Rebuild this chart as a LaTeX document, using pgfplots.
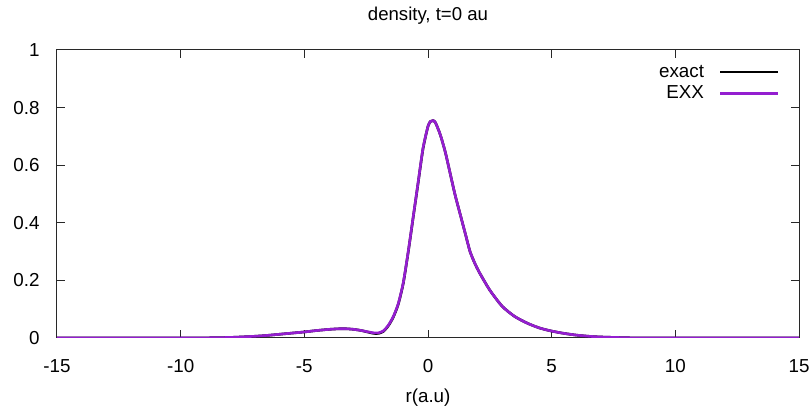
\documentclass[border=0pt]{standalone}
\usepackage{pgfplots}
\pgfplotsset{compat=1.18}
\usepackage{fontspec}
\setmainfont{Liberation Sans}
\definecolor{exxc}{RGB}{148,30,208}
\definecolor{axc}{RGB}{40,40,40}
\begin{document}
\begin{tikzpicture}
\useasboundingbox (-28.5pt,-34pt) rectangle (377.5pt,169pt);
\begin{axis}[
  at={(0,0)}, anchor=south west,
  scale only axis, width=371pt, height=144pt,
  xmin=-15, xmax=15, ymin=0, ymax=1,
  xtick={-15,-10,-5,0,5,10,15},
  ytick={0,0.2,0.4,0.6,0.8,1},
  tick align=inside, tick pos=both,
  xticklabel pos=left, yticklabel pos=left,
  major tick length=4pt,
  axis line style={axc, line width=0.5pt},
  every tick/.style={axc, line width=0.5pt},
  font=\fontsize{9.4}{11}\selectfont,
  /pgf/number format/assume math mode=true,
  /pgf/number format/fixed,
  xticklabel style={anchor=center, inner sep=0pt, yshift=-14.2pt},
  yticklabel style={anchor=east, inner sep=0pt, xshift=-8.5pt},
  title={density, t=0 au},
  title style={at={(0.5,1)}, anchor=center, yshift=11pt, font=\fontsize{9.3}{11}\selectfont},
  xlabel={r(a.u)},
  xlabel style={at={(0.5,0)}, anchor=center, yshift=-30pt},
  legend plot pos=right,
  legend cell align=right,
  legend image code/.code={\draw[#1] (0pt,0pt) -- (29pt,0pt);},
  legend style={at={(1,1)}, anchor=north east, xshift=-9.5pt, yshift=-6.4pt,
    draw=none, fill=none, inner sep=0pt, column sep=7.5pt, row sep=1.6pt,
    nodes={inner sep=0pt, text height=7pt, text depth=2pt},
    font=\fontsize{9.4}{11}\selectfont},
]
\addplot[black, line width=1.3pt, smooth, tension=0.4] coordinates {
(-15,0) (-10,0) (-9,0.0005) (-8,0.002) (-7,0.006) (-6.5,0.009) (-6,0.013)
(-5.5,0.017) (-5,0.021) (-4.5,0.026) (-4,0.030) (-3.6,0.032) (-3.3,0.032)
(-3,0.030) (-2.7,0.026) (-2.4,0.020) (-2.2,0.016) (-2.0,0.016) (-1.8,0.023)
(-1.6,0.043) (-1.4,0.073) (-1.2,0.118) (-1.0,0.190) (-0.8,0.298) (-0.6,0.418)
(-0.4,0.538) (-0.2,0.658) (0.0,0.735) (0.1,0.752) (0.2,0.755) (0.3,0.748)
(0.5,0.705) (0.7,0.645) (0.9,0.570) (1.1,0.495) (1.3,0.430) (1.5,0.365)
(1.7,0.300) (1.9,0.258) (2.1,0.224) (2.5,0.166) (3.0,0.110) (3.5,0.075)
(4.0,0.052) (4.5,0.035) (5.0,0.024) (5.5,0.016) (6.0,0.010) (6.5,0.006)
(7.0,0.0035) (8.0,0.001) (9,0) (15,0)
};
\addlegendentry{exact}
\addplot[exxc, line width=1.3pt, smooth, tension=0.4] coordinates {
(-15,0) (-10,0) (-9,0.0005) (-8,0.002) (-7,0.006) (-6.5,0.009) (-6,0.013)
(-5.5,0.017) (-5,0.021) (-4.5,0.026) (-4,0.030) (-3.6,0.032) (-3.3,0.032)
(-3,0.030) (-2.7,0.026) (-2.4,0.021) (-2.2,0.018) (-2.0,0.018) (-1.8,0.025)
(-1.6,0.045) (-1.4,0.075) (-1.2,0.120) (-1.0,0.192) (-0.8,0.300) (-0.6,0.420)
(-0.4,0.540) (-0.2,0.660) (0.0,0.735) (0.1,0.752) (0.2,0.755) (0.3,0.748)
(0.5,0.705) (0.7,0.645) (0.9,0.570) (1.1,0.495) (1.3,0.430) (1.5,0.365)
(1.7,0.300) (1.9,0.258) (2.1,0.224) (2.5,0.166) (3.0,0.110) (3.5,0.075)
(4.0,0.052) (4.5,0.035) (5.0,0.024) (5.5,0.016) (6.0,0.010) (6.5,0.006)
(7.0,0.0035) (8.0,0.001) (9,0) (15,0)
};
\addlegendentry{EXX}
\end{axis}
\end{tikzpicture}
\end{document}
